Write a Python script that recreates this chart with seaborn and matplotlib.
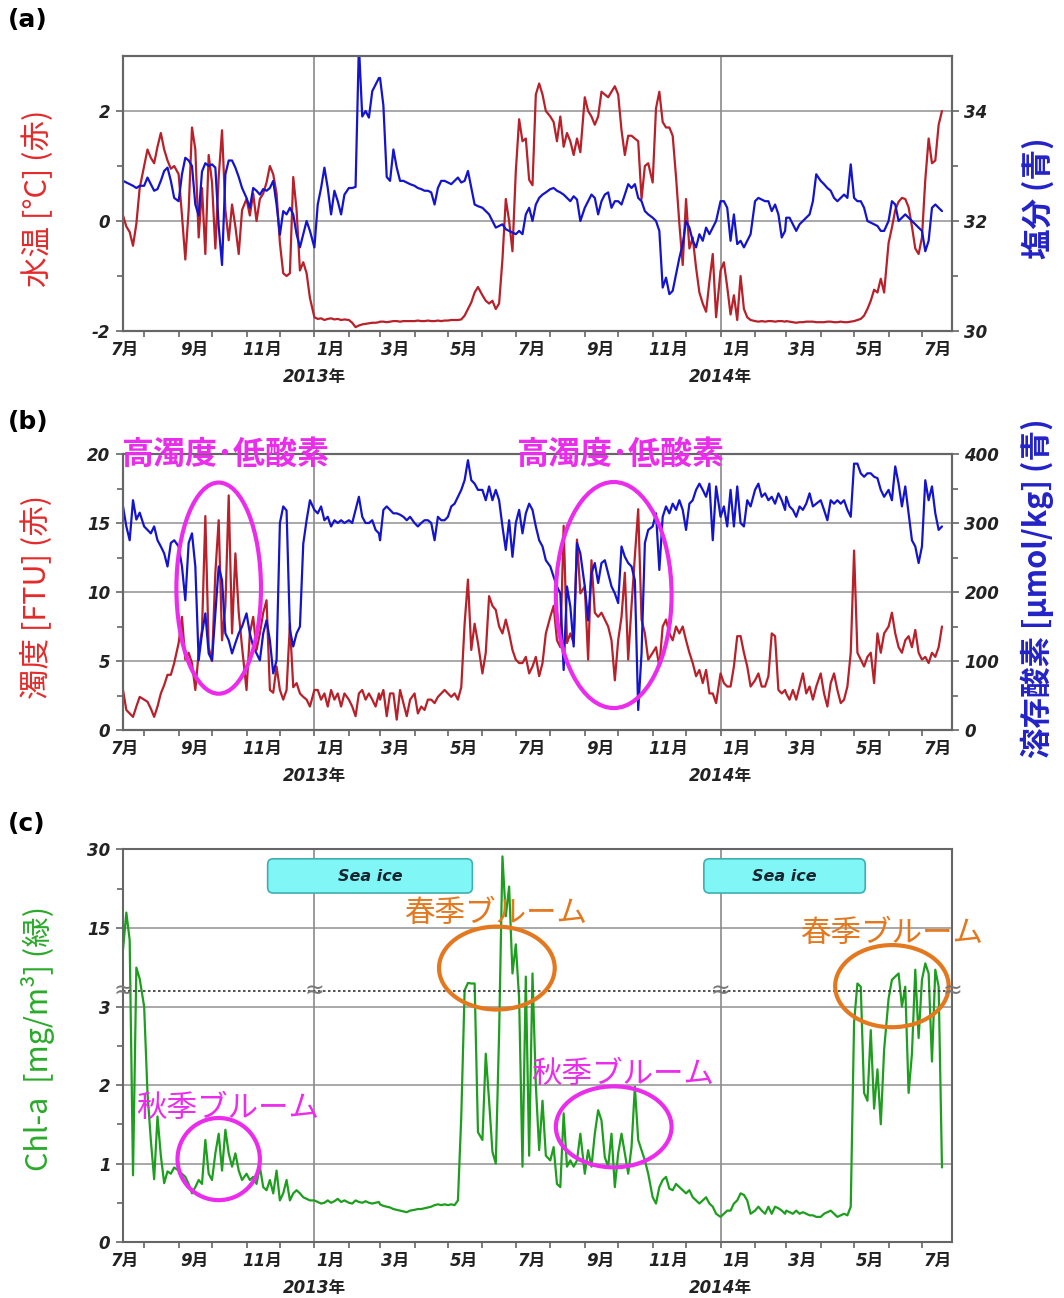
import numpy as np
import pandas as pd
import matplotlib.pyplot as plt
import matplotlib.dates as mdates
import matplotlib.transforms as mtransforms
from matplotlib.patches import Ellipse, FancyBboxPatch
import seaborn as sns

sns.set_style("ticks")
plt.rcParams['font.family'] = ['DejaVu Sans', 'Noto Sans CJK JP']
JP = ['Noto Sans CJK JP', 'DejaVu Sans']

# values, 10 samples a month (days below), from 13 Jul 2012
sample_days = [1, 4, 7, 10, 13, 16, 19, 22, 25, 28]
first_day = pd.Timestamp('2012-07-13')

# (a) water temperature [degC], red
water_temp = [
    0.1, -0.1, -0.2, -0.45, -0.05, 0.6,
    1.0, 1.3, 1.15, 1.05, 1.35, 1.6, 1.3, 1.1, 0.95, 1.0,
    0.85, 0.1, -0.7, 0.2, 1.7, 1.3, -0.3, 0.6, -0.6, 1.2,
    0.7, -0.5, 0.8, 1.65, 0.2, -0.35, 0.3, -0.1, -0.6, 0.2,
    0.4, 0.1, 0.5, 0.0, 0.4, 0.5, 0.7, 1.0, 0.85, 0.5,
    -0.4, -0.95, -1.0, -0.95, 0.8, 0.2, -0.9, -0.75, -0.95, -1.4,
    -1.75, -1.78, -1.77, -1.8, -1.78, -1.77, -1.79, -1.78, -1.8, -1.79,
    -1.8, -1.85, -1.93, -1.9, -1.88, -1.87, -1.86, -1.85, -1.85, -1.84,
    -1.83, -1.83, -1.84, -1.83, -1.82, -1.82, -1.83, -1.82, -1.82, -1.82,
    -1.82, -1.81, -1.82, -1.82, -1.81, -1.82, -1.82, -1.81, -1.82, -1.81,
    -1.81, -1.8, -1.8, -1.8, -1.79, -1.72, -1.6, -1.48, -1.3, -1.2,
    -1.35, -1.45, -1.5, -1.45, -1.6, -1.5, -0.7, 0.4, 0.0, -0.55,
    0.9, 1.85, 1.45, 1.5, 0.75, 0.65, 2.3, 2.5, 2.3, 2.0,
    1.9, 1.8, 1.45, 1.9, 1.35, 1.6, 1.45, 1.2, 1.5, 1.25,
    2.25, 2.0, 1.9, 1.75, 1.9, 2.35, 2.3, 2.25, 2.35, 2.45,
    2.3, 1.65, 1.2, 1.55, 1.55, 1.5, 1.45, 0.4, 1.0, 1.05,
    0.7, 2.05, 2.35, 1.8, 1.7, 1.7, 1.55, 0.8, -0.05, -0.8,
    0.4, -0.5, -0.3, -0.85, -1.3, -1.5, -1.65, -1.1, -0.6, -1.75,
    -0.9, -0.75, -1.2, -1.7, -1.35, -1.8, -1.0, -1.6, -1.75, -1.8,
    -1.82, -1.83, -1.82, -1.83, -1.82, -1.82, -1.83, -1.82, -1.82, -1.83,
    -1.82, -1.83, -1.84, -1.85, -1.84, -1.84, -1.83, -1.83, -1.83, -1.84,
    -1.84, -1.84, -1.83, -1.83, -1.84, -1.84, -1.83, -1.84, -1.84, -1.83,
    -1.82, -1.8, -1.78, -1.72, -1.6, -1.45, -1.25, -1.3, -1.05, -1.3,
    -0.4, -0.12, 0.2, 0.35, 0.42, 0.4, 0.25, -0.1, -0.5, -0.6,
    -0.3, 0.75, 1.5, 1.05, 1.1, 1.75, 2.0,
]

# (a) salinity, blue
salinity = [
    32.73, 32.7, 32.67, 32.64, 32.6, 32.64,
    32.64, 32.79, 32.67, 32.55, 32.58, 32.73, 32.91, 32.97, 32.73, 32.42,
    32.36, 32.85, 33.15, 33.1, 33.0, 32.3, 32.1, 32.9, 33.05, 33.0,
    33.03, 32.97, 31.9, 31.2, 32.85, 33.1, 33.1, 32.97, 32.8, 32.6,
    32.42, 32.24, 32.6, 32.55, 32.48, 32.58, 32.55, 32.6, 32.73, 32.3,
    31.75, 32.18, 32.12, 32.24, 32.12, 31.76, 31.52, 31.76, 32.0, 31.82,
    31.52, 32.3, 32.6, 32.97, 32.6, 32.12, 32.55, 32.36, 32.12, 32.48,
    32.6, 32.6, 32.62, 35.2, 33.9, 34.0, 33.88, 34.36, 34.48, 34.6,
    34.6, 34.1, 32.8, 32.73, 33.3, 32.97, 32.73, 32.73, 32.7, 32.67,
    32.64, 32.6, 32.58, 32.55, 32.55, 32.52, 32.3, 32.6, 32.73, 32.73,
    32.7, 32.67, 32.73, 32.79, 32.7, 32.73, 32.91, 32.6, 32.3, 32.27,
    32.24, 32.18, 32.12, 32.0, 31.88, 31.91, 31.94, 31.85, 31.82, 31.79,
    31.76, 31.82, 31.76, 32.12, 32.24, 32.0, 32.3, 32.42, 32.48, 32.52,
    32.58, 32.6, 32.55, 32.52, 32.48, 32.42, 32.36, 32.45, 32.39, 32.0,
    32.24, 32.36, 32.48, 32.42, 32.12, 32.36, 32.48, 32.52, 32.24, 32.36,
    32.36, 32.3, 32.48, 32.67, 32.6, 32.67, 32.42, 32.36, 32.18, 32.12,
    32.06, 32.0, 31.82, 30.79, 30.97, 30.67, 30.73, 31.03, 31.33, 31.58,
    32.0, 31.88, 31.64, 31.52, 31.76, 31.64, 31.88, 31.76, 31.88, 32.0,
    32.36, 32.36, 32.24, 31.64, 32.12, 31.58, 31.64, 31.52, 31.64, 31.76,
    32.36, 32.42, 32.39, 32.36, 32.36, 32.18, 32.3, 32.12, 31.7, 31.82,
    32.06, 32.06, 31.94, 31.82, 31.94, 32.0, 32.06, 32.12, 32.36, 32.85,
    32.73, 32.67, 32.6, 32.55, 32.42, 32.36, 32.42, 32.48, 32.42, 33.03,
    32.42, 32.36, 32.36, 32.24, 32.0, 31.97, 31.94, 31.91, 31.82, 31.82,
    32.0, 32.36, 32.3, 32.0, 32.06, 32.12, 32.06, 32.0, 31.94, 31.88,
    31.82, 31.45, 31.64, 32.24, 32.3, 32.24, 32.18,
]

# (b) turbidity [FTU], red
turbidity = [
    2.9, 1.45, 1.2, 0.95, 1.7, 2.4,
    2.2, 2.05, 1.55, 0.95, 1.7, 2.65, 3.25, 4.0, 4.0, 4.85,
    6.3, 8.2, 5.1, 5.6, 4.85, 2.9, 5.6, 7.25, 15.5, 6.0,
    5.0, 11.4, 15.2, 6.5, 9.0, 17.0, 7.0, 12.8, 8.5, 6.0,
    2.9, 7.0, 8.2, 5.8, 7.0, 8.5, 9.4, 2.9, 2.7, 4.6,
    2.9, 2.2, 2.9, 7.7, 3.1, 3.4, 2.65, 2.4, 2.2, 1.7,
    2.9, 2.9, 2.2, 2.65, 1.7, 2.9, 2.2, 2.65, 1.7, 2.65,
    2.2, 1.7, 1.0, 2.65, 2.9, 2.2, 2.65, 2.2, 1.7, 2.65,
    2.2, 2.9, 1.0, 2.65, 2.65, 0.75, 2.9, 1.95, 1.0, 2.2,
    2.65, 1.2, 1.7, 1.45, 2.2, 2.2, 1.95, 2.4, 2.65, 2.9,
    2.65, 2.4, 2.65, 2.2, 3.1, 7.7, 10.9, 5.8, 7.7, 6.3,
    4.1, 5.6, 9.7, 9.0, 8.7, 7.5, 7.0, 8.0, 7.0, 5.8,
    5.1, 4.85, 4.85, 5.3, 4.1, 4.6, 5.3, 3.9, 4.85, 7.0,
    8.2, 9.0, 6.5, 6.0, 14.8, 6.3, 7.0, 6.3, 13.8, 9.9,
    10.4, 5.1, 12.3, 8.5, 8.2, 8.5, 8.0, 7.5, 6.5, 3.6,
    6.5, 8.2, 11.4, 5.1, 9.0, 12.6, 16.0, 8.0, 7.0, 5.1,
    5.6, 6.0, 4.6, 7.5, 8.0, 7.0, 6.5, 7.5, 7.0, 7.5,
    6.5, 5.6, 4.85, 3.9, 4.35, 3.4, 4.35, 2.65, 2.65, 1.95,
    4.1, 3.4, 3.15, 3.15, 4.6, 6.8, 6.8, 5.6, 4.6, 3.15,
    3.6, 4.1, 3.15, 3.15, 3.9, 7.0, 6.8, 2.9, 2.65, 2.9,
    2.65, 2.2, 2.9, 2.2, 3.15, 4.1, 2.65, 3.15, 2.2, 3.15,
    4.1, 2.65, 1.7, 3.4, 4.1, 2.9, 1.95, 2.2, 3.15, 5.6,
    13.0, 5.6, 5.1, 4.6, 5.3, 5.6, 3.4, 7.0, 5.6, 7.0,
    7.5, 8.5, 7.0, 6.0, 5.6, 6.5, 6.8, 6.0, 7.25, 5.6,
    5.1, 5.3, 4.85, 5.6, 5.3, 6.0, 7.5,
]

# (b) dissolved oxygen [umol/kg], blue
oxygen = [
    324, 295, 275, 333, 305, 315,
    295, 290, 285, 295, 275, 266, 256, 237, 271, 275,
    266, 237, 188, 271, 285, 237, 101, 140, 169, 111,
    101, 169, 237, 217, 140, 130, 111, 126, 140, 150,
    169, 140, 121, 111, 101, 140, 159, 130, 82, 101,
    300, 324, 318, 145, 121, 140, 150, 270, 304, 333,
    319, 314, 324, 304, 309, 295, 304, 300, 304, 300,
    304, 300, 319, 338, 309, 300, 300, 304, 290, 285,
    275, 319, 324, 319, 314, 314, 312, 309, 304, 309,
    300, 295, 300, 304, 304, 300, 275, 309, 304, 304,
    309, 324, 328, 338, 348, 362, 391, 362, 357, 348,
    348, 333, 353, 333, 348, 333, 295, 261, 304, 251,
    300, 319, 285, 314, 328, 319, 295, 275, 266, 246,
    237, 222, 208, 198, 87, 208, 179, 121, 271, 256,
    208, 159, 227, 242, 213, 242, 246, 227, 208, 198,
    184, 266, 251, 242, 237, 217, 29, 111, 271, 290,
    295, 314, 232, 309, 324, 314, 328, 319, 333, 319,
    290, 328, 333, 348, 357, 348, 338, 357, 275, 353,
    309, 324, 295, 348, 295, 353, 300, 295, 333, 324,
    348, 357, 338, 343, 333, 338, 328, 343, 333, 319,
    338, 324, 319, 309, 324, 319, 328, 343, 324, 328,
    333, 319, 304, 333, 328, 333, 328, 333, 319, 309,
    386, 386, 372, 367, 372, 372, 367, 365, 348, 338,
    348, 333, 382, 357, 324, 353, 314, 275, 266, 242,
    266, 362, 333, 353, 314, 290, 295,
]

# (c) chlorophyll-a [mg/m3], green
chl_a = [
    11.0, 18.0, 12.8, 0.85, 7.6, 5.5,
    3.0, 1.9, 1.3, 0.8, 1.6, 1.1, 0.75, 0.9, 0.87, 0.95,
    0.91, 0.87, 0.83, 0.74, 0.62, 0.7, 0.79, 0.74, 1.3, 0.87,
    0.79, 1.13, 1.38, 0.91, 1.43, 1.13, 0.96, 1.13, 0.91, 0.79,
    0.87, 0.79, 0.83, 0.74, 0.96, 0.7, 0.66, 0.79, 0.62, 0.91,
    0.53, 0.62, 0.79, 0.53, 0.62, 0.66, 0.62, 0.57, 0.55, 0.53,
    0.53, 0.51, 0.49, 0.5, 0.53, 0.5, 0.52, 0.55, 0.51, 0.53,
    0.5, 0.49, 0.53, 0.51, 0.5, 0.52, 0.5, 0.49, 0.5, 0.51,
    0.48, 0.46, 0.45, 0.44, 0.42, 0.41, 0.4, 0.39, 0.38, 0.4,
    0.41, 0.42, 0.42, 0.43, 0.44, 0.45, 0.47, 0.48, 0.47, 0.48,
    0.47, 0.48, 0.47, 0.53, 1.6, 3.3, 4.7, 4.6, 4.6, 1.4,
    1.3, 2.4, 1.8, 1.15, 1.0, 2.66, 28.6, 17.3, 22.9, 6.5,
    12.0, 3.1, 0.96, 5.9, 1.1, 6.5, 2.0, 1.17, 1.8, 1.1,
    1.04, 1.21, 0.74, 0.7, 1.64, 0.96, 1.04, 0.96, 1.04, 1.38,
    0.87, 1.17, 0.96, 1.38, 1.68, 1.55, 1.08, 0.96, 1.38, 0.7,
    1.13, 1.38, 1.13, 0.87, 1.21, 1.98, 1.3, 1.17, 1.04, 0.87,
    0.57, 0.49, 0.7, 0.79, 0.83, 0.68, 0.66, 0.74, 0.7, 0.66,
    0.62, 0.66, 0.57, 0.53, 0.49, 0.53, 0.57, 0.49, 0.45, 0.36,
    0.32, 0.36, 0.4, 0.4, 0.49, 0.53, 0.62, 0.6, 0.53, 0.36,
    0.4, 0.45, 0.4, 0.36, 0.45, 0.36, 0.45, 0.43, 0.4, 0.36,
    0.4, 0.38, 0.36, 0.4, 0.36, 0.38, 0.36, 0.34, 0.34, 0.32,
    0.32, 0.36, 0.38, 0.4, 0.36, 0.32, 0.34, 0.36, 0.34, 0.45,
    2.8, 4.6, 4.0, 1.9, 1.8, 2.7, 1.7, 2.2, 1.5, 2.45,
    3.1, 5.3, 5.9, 6.5, 3.0, 4.0, 1.9, 2.4, 7.2, 2.6,
    5.3, 8.4, 6.5, 2.3, 7.2, 4.0, 0.95,
]

# sea-ice periods and annotation places (date, height as a fraction of the panel)
sea_ice = [('2012-11-20', '2013-05-23'), ('2013-12-17', '2014-05-11')]
b_notes = [('2012-10-13', '2012-10-07', 0.514, 76, 0.765),
           ('2013-10-03', '2013-09-27', 0.489, 104, 0.819)]
spring_notes = [('2013-06-13', 0.835, '2013-06-14', 0.697, 104, 0.211),
                ('2014-06-04', 0.786, '2014-06-04', 0.651, 102, 0.209)]
autumn_notes = [('2012-10-15', 0.341, '2012-10-07', 0.211, 74, 0.209),
                ('2013-10-05', 0.427, '2013-09-27', 0.293, 104, 0.206)]


def sample_dates(n):
    out = [pd.Timestamp(y, m, d) for y in (2012, 2013, 2014)
           for m in range(1, 13) for d in sample_days]
    out = [t for t in out if t >= first_day]
    return out[:n]


RED = '#B8202A'
BLUE = '#1414CC'
GREEN = '#1E9E1E'
MAGENTA = '#EC2CEC'
ORANGE = '#E4781E'
GRID = '#9A9A9A'
TICKC = '#222222'

x_start = mdates.date2num(pd.Timestamp('2012-07-13'))
x_end = mdates.date2num(pd.Timestamp('2014-07-28'))
month_starts = mdates.date2num(pd.date_range('2012-08-01', '2014-07-01', freq='MS'))
label_pos = pd.date_range('2012-07-01', '2014-07-01', freq='2MS') + pd.Timedelta(days=14)
month_labels = [f'{d.month}月' for d in label_pos]
label_pos = mdates.date2num(label_pos)
tick_font = dict(fontsize=12, fontweight='bold', fontstyle='italic', color=TICKC)


def style_time_axis(ax):
    ax.set_xlim(x_start, x_end)
    ax.set_xticks(label_pos, month_labels, **tick_font)
    ax.set_xticks(month_starts, minor=True)
    ax.tick_params(axis='x', which='major', length=0, pad=7)
    ax.tick_params(axis='x', which='minor', length=4, width=1.2, color='#666666', direction='out')
    ax.tick_params(axis='y', which='both', direction='out', color='#666666', width=1.2)
    ax.tick_params(axis='y', which='major', length=5, pad=4)
    ax.tick_params(axis='y', which='minor', length=4)
    ax.grid(axis='y', which='major', color=GRID, lw=1.2)
    ax.grid(axis='x', visible=False)
    for yr in (2013, 2014):
        x = mdates.date2num(pd.Timestamp(yr, 1, 1))
        ax.axvline(x, color='#8a8a8a', lw=1.2, zorder=1)
        ax.annotate(f'{yr}年', xy=(x, 0), xycoords=('data', 'axes fraction'),
                    xytext=(0, -33), textcoords='offset points', ha='center', va='center',
                    **tick_font)
    for s in ax.spines.values():
        s.set_color('#666666')
        s.set_linewidth(1.5)
    ax.set_xlabel('')
    ax.set_ylabel('')


def style_right(ax2):
    ax2.tick_params(axis='y', which='both', direction='out', color='#666666', width=1.2)
    ax2.tick_params(axis='y', which='major', length=5, pad=4)
    ax2.tick_params(axis='y', which='minor', length=4)
    ax2.grid(False)
    for s in ax2.spines.values():
        s.set_color('#666666')
        s.set_linewidth(1.5)
    ax2.set_ylabel('')


W, H = 1064, 1298
fig = plt.figure(figsize=(W / 100, H / 100), dpi=100)
left, right = 123 / W, 952 / W


def panel(top, bottom):
    return fig.add_axes([left, 1 - bottom / H, right - left, (bottom - top) / H])


def d2n(s):
    return mdates.date2num(pd.Timestamp(s))


# ---------------- (a) ----------------
ax_a = panel(56, 331)
sns.lineplot(x=sample_dates(len(water_temp)), y=water_temp, ax=ax_a, color=RED, lw=1.6)
ax_a.set_ylim(-2, 3)
ax_a.set_yticks([-2, 0, 2], ['-2', '0', '2'], **tick_font)
ax_a.set_yticks([-1, 1], minor=True)
style_time_axis(ax_a)
ax_a2 = ax_a.twinx()
sns.lineplot(x=sample_dates(len(salinity)), y=salinity, ax=ax_a2, color=BLUE, lw=1.6)
ax_a2.set_ylim(30, 35)
ax_a2.set_yticks([30, 32, 34], ['30', '32', '34'], **tick_font)
ax_a2.set_yticks([31, 33], minor=True)
style_right(ax_a2)
ax_a.set_xlim(x_start, x_end)

# ---------------- (b) ----------------
ax_b = panel(454, 730)
sns.lineplot(x=sample_dates(len(turbidity)), y=turbidity, ax=ax_b, color=RED, lw=1.6)
ax_b.set_ylim(0, 20)
ax_b.set_yticks([0, 5, 10, 15, 20], ['0', '5', '10', '15', '20'], **tick_font)
ax_b.set_yticks([2.5, 7.5, 12.5, 17.5], minor=True)
style_time_axis(ax_b)
ax_b2 = ax_b.twinx()
sns.lineplot(x=sample_dates(len(oxygen)), y=oxygen, ax=ax_b2, color=BLUE, lw=1.6)
ax_b2.set_ylim(0, 400)
ax_b2.set_yticks([0, 100, 200, 300, 400], ['0', '100', '200', '300', '400'], **tick_font)
ax_b2.set_yticks([50, 150, 250, 350], minor=True)
style_right(ax_b2)
ax_b.set_xlim(x_start, x_end)

tb = mtransforms.blended_transform_factory(ax_b2.transData, ax_b2.transAxes)
for tx, ex, ey, ew, eh in b_notes:
    ax_b2.text(d2n(tx), 0.996, '高濁度･低酸素', transform=tb, ha='center', va='center',
               fontsize=23, color=MAGENTA, family=JP, fontweight='bold', zorder=5)
    ax_b2.add_patch(Ellipse((d2n(ex), ey), ew, eh, transform=tb, fill=False,
                            ec=MAGENTA, lw=3, zorder=5))

# ---------------- (c) ----------------
BREAK, LOW_PX, HIGH_PX = 3.2, 235.0, 15.86


def fwd(v):
    v = np.asarray(v, dtype=float)
    return np.where(v <= BREAK, v * LOW_PX, BREAK * LOW_PX + (v - BREAK) * HIGH_PX)


def inv(p):
    p = np.asarray(p, dtype=float)
    return np.where(p <= BREAK * LOW_PX, p / LOW_PX, BREAK + (p - BREAK * LOW_PX) / HIGH_PX)


ax_c = panel(849, 1242)
ax_c.set_yscale('function', functions=(fwd, inv))
sns.lineplot(x=sample_dates(len(chl_a)), y=chl_a, ax=ax_c, color=GREEN, lw=1.6)
ax_c.set_ylim(0, 30)
ax_c.set_yticks([0, 1, 2, 3, 15, 30], ['0', '1', '2', '3', '15', '30'], **tick_font)
ax_c.set_yticks([0.5, 1.5, 2.5, 22.5], minor=True)
style_time_axis(ax_c)
ax_c.axhline(BREAK, color='#333333', lw=1.2, ls=(0, (1.5, 1.5)), zorder=2)
for xb in (x_start, d2n('2013-01-01'), d2n('2014-01-01'), x_end):
    ax_c.text(xb, BREAK, '≈', ha='center', va='center', fontsize=17, color='#777777',
              zorder=6, clip_on=False)

tc = mtransforms.blended_transform_factory(ax_c.transData, ax_c.transAxes)
pos = ax_c.get_position()
px_per_day = pos.width * W / (x_end - x_start)
aspect = px_per_day / (pos.height * H)
for s, e in sea_ice:
    x0, x1 = d2n(s), d2n(e)
    ax_c.add_patch(FancyBboxPatch((x0, 0.888), x1 - x0, 0.087, transform=tc,
                                  boxstyle='round,pad=0,rounding_size=5',
                                  mutation_aspect=aspect, fc='#80F6F6', ec='#3FB0B0',
                                  lw=1.2, zorder=4))
    ax_c.text((x0 + x1) / 2, 0.931, 'Sea ice', transform=tc, ha='center', va='center',
              fontsize=11.5, fontweight='bold', fontstyle='italic', color='#1a2530',
              family='DejaVu Sans', zorder=5)

for notes, label, col in ((spring_notes, '春季ブルーム', ORANGE),
                          (autumn_notes, '秋季ブルーム', MAGENTA)):
    for tx, ty, ex, ey, ew, eh in notes:
        ax_c.text(d2n(tx), ty, label, transform=tc, ha='center', va='center',
                  fontsize=22, color=col, family=JP, zorder=5)
        ax_c.add_patch(Ellipse((d2n(ex), ey), ew, eh, transform=tc, fill=False,
                               ec=col, lw=3, zorder=5))

# ---------------- labels ----------------
def side_label(x, y, s, color, weight):
    fig.text(x / W, 1 - y / H, s, rotation=90, ha='center', va='center',
             fontsize=22, color=color, family=JP, fontweight=weight)


side_label(38, 198, '水温 [°C] (赤)', '#E42A2A', 'normal')
side_label(1038, 198, '塩分 (青)', '#2222C8', 'bold')
side_label(37, 597, '濁度 [FTU] (赤)', '#E42A2A', 'normal')
side_label(1037, 588, '溶存酸素 [µmol/kg] (青)', '#2222C8', 'bold')
side_label(38, 1038, 'Chl-a  [mg/m³] (緑)', '#2AAA2A', 'normal')

for y, s in ((20, '(a)'), (422, '(b)'), (824, '(c)')):
    fig.text(8 / W, 1 - y / H, s, ha='left', va='center', fontsize=18,
             fontweight='bold', color='black')

fig.savefig('out.png', dpi=100)
